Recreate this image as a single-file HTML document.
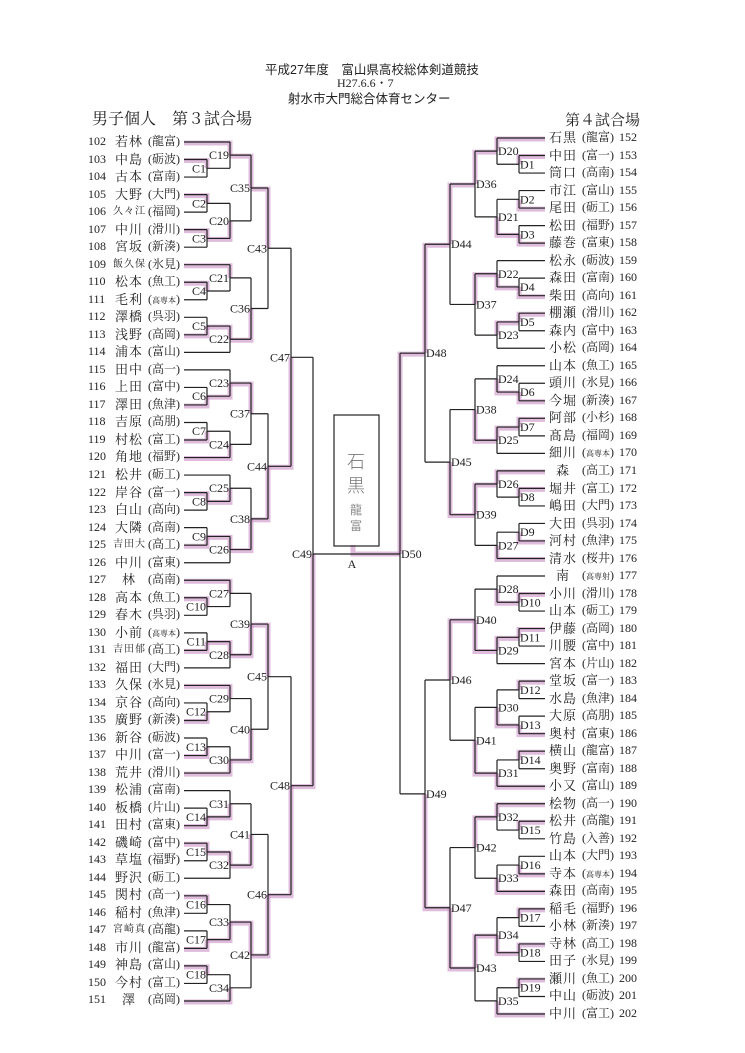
<!DOCTYPE html>
<html><head><meta charset="utf-8">
<style>
body{margin:0;background:#fff;}
#pg{position:relative;width:745px;height:1053px;overflow:hidden;background:#fff;font-family:"Liberation Serif","Noto Serif CJK SC","Noto Sans CJK JP",serif;color:#222;}
.t{position:absolute;white-space:nowrap;}
.col{position:absolute;}
.row{height:17.53px;line-height:17.53px;white-space:nowrap;font-size:13px;position:relative;}
.lc .n{position:absolute;left:0;width:24px;font-size:12px;}
.lc .nm{position:absolute;left:25px;width:32px;text-align:center;letter-spacing:1px;}
.lc .sc{position:absolute;left:55px;width:42px;text-align:center;font-size:12px;}
.rc .nm{position:absolute;left:0;width:28px;text-align:center;letter-spacing:1px;}
.rc .sc{position:absolute;left:28px;width:42px;text-align:center;font-size:12px;}
.rc .n{position:absolute;left:70px;font-size:12px;}
.s3{font-size:10px;letter-spacing:0}
.xs{font-size:8px}
svg{position:absolute;left:0;top:0;}
svg text{font-family:"Liberation Serif",serif;font-size:12px;fill:#222;}
</style></head><body><div id="pg">
<div class="t" style="left:265px;top:59px;font-size:12.5px;font-family:'Liberation Sans','Noto Sans CJK JP',sans-serif;">平成27年度　富山県高校総体剣道競技</div>
<div class="t" style="left:337px;top:74px;font-size:12px;">H27.6.6・7</div>
<div class="t" style="left:288px;top:88px;font-size:12.5px;font-family:'Liberation Sans','Noto Sans CJK JP',sans-serif;">射水市大門総合体育センター</div>
<div class="t" style="left:92px;top:106px;font-size:16px;">男子個人　第３試合場</div>
<div class="t" style="left:565px;top:109px;font-size:15px;">第４試合場</div>

<svg width="745" height="1053" id="sv">
<g id="pink" fill="none" stroke="#c98fc3" stroke-width="5" stroke-opacity="0.6"></g>
<g id="ln" fill="none" stroke="#222" stroke-width="1.2"></g>
<rect x="334" y="415" width="45" height="131" fill="none" stroke="#222" stroke-width="1.2"/>
<text x="356" y="468" text-anchor="middle" style="font-size:18px;fill:#777;font-family:'Noto Sans CJK JP',sans-serif;font-weight:300">石</text>
<text x="356" y="492" text-anchor="middle" style="font-size:18px;fill:#777;font-family:'Noto Sans CJK JP',sans-serif;font-weight:300">黒</text>
<text x="356" y="514" text-anchor="middle" style="font-size:12px;fill:#888;font-family:'Noto Sans CJK JP',sans-serif">龍</text>
<text x="356" y="530" text-anchor="middle" style="font-size:12px;fill:#888;font-family:'Noto Sans CJK JP',sans-serif">富</text>
<text x="352" y="568" text-anchor="middle">A</text>
<g id="lb">
<text id="C1">C1</text><text id="C2">C2</text><text id="C3">C3</text><text id="C4">C4</text><text id="C5">C5</text><text id="C6">C6</text><text id="C7">C7</text><text id="C8">C8</text><text id="C9">C9</text><text id="C10">C10</text><text id="C11">C11</text><text id="C12">C12</text><text id="C13">C13</text><text id="C14">C14</text><text id="C15">C15</text><text id="C16">C16</text><text id="C17">C17</text><text id="C18">C18</text><text id="C19">C19</text><text id="C20">C20</text><text id="C21">C21</text><text id="C22">C22</text><text id="C23">C23</text><text id="C24">C24</text><text id="C25">C25</text><text id="C26">C26</text><text id="C27">C27</text><text id="C28">C28</text><text id="C29">C29</text><text id="C30">C30</text><text id="C31">C31</text><text id="C32">C32</text><text id="C33">C33</text><text id="C34">C34</text><text id="C35">C35</text><text id="C36">C36</text><text id="C37">C37</text><text id="C38">C38</text><text id="C39">C39</text><text id="C40">C40</text><text id="C41">C41</text><text id="C42">C42</text><text id="C43">C43</text><text id="C44">C44</text><text id="C45">C45</text><text id="C46">C46</text><text id="C47">C47</text><text id="C48">C48</text><text id="C49">C49</text>
<text id="D1">D1</text><text id="D2">D2</text><text id="D3">D3</text><text id="D4">D4</text><text id="D5">D5</text><text id="D6">D6</text><text id="D7">D7</text><text id="D8">D8</text><text id="D9">D9</text><text id="D10">D10</text><text id="D11">D11</text><text id="D12">D12</text><text id="D13">D13</text><text id="D14">D14</text><text id="D15">D15</text><text id="D16">D16</text><text id="D17">D17</text><text id="D18">D18</text><text id="D19">D19</text><text id="D20">D20</text><text id="D21">D21</text><text id="D22">D22</text><text id="D23">D23</text><text id="D24">D24</text><text id="D25">D25</text><text id="D26">D26</text><text id="D27">D27</text><text id="D28">D28</text><text id="D29">D29</text><text id="D30">D30</text><text id="D31">D31</text><text id="D32">D32</text><text id="D33">D33</text><text id="D34">D34</text><text id="D35">D35</text><text id="D36">D36</text><text id="D37">D37</text><text id="D38">D38</text><text id="D39">D39</text><text id="D40">D40</text><text id="D41">D41</text><text id="D42">D42</text><text id="D43">D43</text><text id="D44">D44</text><text id="D45">D45</text><text id="D46">D46</text><text id="D47">D47</text><text id="D48">D48</text><text id="D49">D49</text><text id="D50">D50</text>
</g>
</svg>

<div class="col lc" style="left:88px;top:133.2px;width:100px;">
<div class="row"><span class="n">102</span><span class="nm">若林</span><span class="sc">(龍富)</span></div>
<div class="row"><span class="n">103</span><span class="nm">中島</span><span class="sc">(砺波)</span></div>
<div class="row"><span class="n">104</span><span class="nm">古本</span><span class="sc">(富南)</span></div>
<div class="row"><span class="n">105</span><span class="nm">大野</span><span class="sc">(大門)</span></div>
<div class="row"><span class="n">106</span><span class="nm s3">久々江</span><span class="sc">(福岡)</span></div>
<div class="row"><span class="n">107</span><span class="nm">中川</span><span class="sc">(滑川)</span></div>
<div class="row"><span class="n">108</span><span class="nm">宮坂</span><span class="sc">(新湊)</span></div>
<div class="row"><span class="n">109</span><span class="nm s3">飯久保</span><span class="sc">(氷見)</span></div>
<div class="row"><span class="n">110</span><span class="nm">松本</span><span class="sc">(魚工)</span></div>
<div class="row"><span class="n">111</span><span class="nm">毛利</span><span class="sc">(<span class="xs">高専本</span>)</span></div>
<div class="row"><span class="n">112</span><span class="nm">澤橋</span><span class="sc">(呉羽)</span></div>
<div class="row"><span class="n">113</span><span class="nm">浅野</span><span class="sc">(高岡)</span></div>
<div class="row"><span class="n">114</span><span class="nm">浦本</span><span class="sc">(富山)</span></div>
<div class="row"><span class="n">115</span><span class="nm">田中</span><span class="sc">(高一)</span></div>
<div class="row"><span class="n">116</span><span class="nm">上田</span><span class="sc">(富中)</span></div>
<div class="row"><span class="n">117</span><span class="nm">澤田</span><span class="sc">(魚津)</span></div>
<div class="row"><span class="n">118</span><span class="nm">吉原</span><span class="sc">(高朋)</span></div>
<div class="row"><span class="n">119</span><span class="nm">村松</span><span class="sc">(富工)</span></div>
<div class="row"><span class="n">120</span><span class="nm">角地</span><span class="sc">(福野)</span></div>
<div class="row"><span class="n">121</span><span class="nm">松井</span><span class="sc">(砺工)</span></div>
<div class="row"><span class="n">122</span><span class="nm">岸谷</span><span class="sc">(富一)</span></div>
<div class="row"><span class="n">123</span><span class="nm">白山</span><span class="sc">(高向)</span></div>
<div class="row"><span class="n">124</span><span class="nm">大隣</span><span class="sc">(高南)</span></div>
<div class="row"><span class="n">125</span><span class="nm s3">吉田大</span><span class="sc">(高工)</span></div>
<div class="row"><span class="n">126</span><span class="nm">中川</span><span class="sc">(富東)</span></div>
<div class="row"><span class="n">127</span><span class="nm">林</span><span class="sc">(高南)</span></div>
<div class="row"><span class="n">128</span><span class="nm">高本</span><span class="sc">(魚工)</span></div>
<div class="row"><span class="n">129</span><span class="nm">春木</span><span class="sc">(呉羽)</span></div>
<div class="row"><span class="n">130</span><span class="nm">小前</span><span class="sc">(<span class="xs">高専本</span>)</span></div>
<div class="row"><span class="n">131</span><span class="nm s3">吉田郁</span><span class="sc">(高工)</span></div>
<div class="row"><span class="n">132</span><span class="nm">福田</span><span class="sc">(大門)</span></div>
<div class="row"><span class="n">133</span><span class="nm">久保</span><span class="sc">(氷見)</span></div>
<div class="row"><span class="n">134</span><span class="nm">京谷</span><span class="sc">(高向)</span></div>
<div class="row"><span class="n">135</span><span class="nm">廣野</span><span class="sc">(新湊)</span></div>
<div class="row"><span class="n">136</span><span class="nm">新谷</span><span class="sc">(砺波)</span></div>
<div class="row"><span class="n">137</span><span class="nm">中川</span><span class="sc">(富一)</span></div>
<div class="row"><span class="n">138</span><span class="nm">荒井</span><span class="sc">(滑川)</span></div>
<div class="row"><span class="n">139</span><span class="nm">松浦</span><span class="sc">(富南)</span></div>
<div class="row"><span class="n">140</span><span class="nm">板橋</span><span class="sc">(片山)</span></div>
<div class="row"><span class="n">141</span><span class="nm">田村</span><span class="sc">(富東)</span></div>
<div class="row"><span class="n">142</span><span class="nm">磯崎</span><span class="sc">(富中)</span></div>
<div class="row"><span class="n">143</span><span class="nm">草塩</span><span class="sc">(福野)</span></div>
<div class="row"><span class="n">144</span><span class="nm">野沢</span><span class="sc">(砺工)</span></div>
<div class="row"><span class="n">145</span><span class="nm">関村</span><span class="sc">(高一)</span></div>
<div class="row"><span class="n">146</span><span class="nm">稲村</span><span class="sc">(魚津)</span></div>
<div class="row"><span class="n">147</span><span class="nm s3">宮崎真</span><span class="sc">(高龍)</span></div>
<div class="row"><span class="n">148</span><span class="nm">市川</span><span class="sc">(龍富)</span></div>
<div class="row"><span class="n">149</span><span class="nm">神島</span><span class="sc">(富山)</span></div>
<div class="row"><span class="n">150</span><span class="nm">今村</span><span class="sc">(富工)</span></div>
<div class="row"><span class="n">151</span><span class="nm">澤</span><span class="sc">(高岡)</span></div>
</div>

<div class="col rc" style="left:549px;top:129.2px;width:100px;">
<div class="row"><span class="nm">石黒</span><span class="sc">(龍富)</span><span class="n">152</span></div>
<div class="row"><span class="nm">中田</span><span class="sc">(富一)</span><span class="n">153</span></div>
<div class="row"><span class="nm">筒口</span><span class="sc">(高南)</span><span class="n">154</span></div>
<div class="row"><span class="nm">市江</span><span class="sc">(富山)</span><span class="n">155</span></div>
<div class="row"><span class="nm">尾田</span><span class="sc">(砺工)</span><span class="n">156</span></div>
<div class="row"><span class="nm">松田</span><span class="sc">(福野)</span><span class="n">157</span></div>
<div class="row"><span class="nm">藤巻</span><span class="sc">(富東)</span><span class="n">158</span></div>
<div class="row"><span class="nm">松永</span><span class="sc">(砺波)</span><span class="n">159</span></div>
<div class="row"><span class="nm">森田</span><span class="sc">(富南)</span><span class="n">160</span></div>
<div class="row"><span class="nm">柴田</span><span class="sc">(高向)</span><span class="n">161</span></div>
<div class="row"><span class="nm">棚瀬</span><span class="sc">(滑川)</span><span class="n">162</span></div>
<div class="row"><span class="nm">森内</span><span class="sc">(富中)</span><span class="n">163</span></div>
<div class="row"><span class="nm">小松</span><span class="sc">(高岡)</span><span class="n">164</span></div>
<div class="row"><span class="nm">山本</span><span class="sc">(魚工)</span><span class="n">165</span></div>
<div class="row"><span class="nm">頭川</span><span class="sc">(氷見)</span><span class="n">166</span></div>
<div class="row"><span class="nm">今堀</span><span class="sc">(新湊)</span><span class="n">167</span></div>
<div class="row"><span class="nm">阿部</span><span class="sc">(小杉)</span><span class="n">168</span></div>
<div class="row"><span class="nm">髙島</span><span class="sc">(福岡)</span><span class="n">169</span></div>
<div class="row"><span class="nm">細川</span><span class="sc">(<span class="xs">高専本</span>)</span><span class="n">170</span></div>
<div class="row"><span class="nm">森</span><span class="sc">(高工)</span><span class="n">171</span></div>
<div class="row"><span class="nm">堀井</span><span class="sc">(富工)</span><span class="n">172</span></div>
<div class="row"><span class="nm">嶋田</span><span class="sc">(大門)</span><span class="n">173</span></div>
<div class="row"><span class="nm">大田</span><span class="sc">(呉羽)</span><span class="n">174</span></div>
<div class="row"><span class="nm">河村</span><span class="sc">(魚津)</span><span class="n">175</span></div>
<div class="row"><span class="nm">清水</span><span class="sc">(桜井)</span><span class="n">176</span></div>
<div class="row"><span class="nm">南</span><span class="sc">(<span class="xs">高専射</span>)</span><span class="n">177</span></div>
<div class="row"><span class="nm">小川</span><span class="sc">(滑川)</span><span class="n">178</span></div>
<div class="row"><span class="nm">山本</span><span class="sc">(砺工)</span><span class="n">179</span></div>
<div class="row"><span class="nm">伊藤</span><span class="sc">(高岡)</span><span class="n">180</span></div>
<div class="row"><span class="nm">川腰</span><span class="sc">(富中)</span><span class="n">181</span></div>
<div class="row"><span class="nm">宮本</span><span class="sc">(片山)</span><span class="n">182</span></div>
<div class="row"><span class="nm">堂坂</span><span class="sc">(富一)</span><span class="n">183</span></div>
<div class="row"><span class="nm">水島</span><span class="sc">(魚津)</span><span class="n">184</span></div>
<div class="row"><span class="nm">大原</span><span class="sc">(高朋)</span><span class="n">185</span></div>
<div class="row"><span class="nm">奥村</span><span class="sc">(富東)</span><span class="n">186</span></div>
<div class="row"><span class="nm">横山</span><span class="sc">(龍富)</span><span class="n">187</span></div>
<div class="row"><span class="nm">奥野</span><span class="sc">(富南)</span><span class="n">188</span></div>
<div class="row"><span class="nm">小又</span><span class="sc">(富山)</span><span class="n">189</span></div>
<div class="row"><span class="nm">桧物</span><span class="sc">(高一)</span><span class="n">190</span></div>
<div class="row"><span class="nm">松井</span><span class="sc">(高龍)</span><span class="n">191</span></div>
<div class="row"><span class="nm">竹島</span><span class="sc">(入善)</span><span class="n">192</span></div>
<div class="row"><span class="nm">山本</span><span class="sc">(大門)</span><span class="n">193</span></div>
<div class="row"><span class="nm">寺本</span><span class="sc">(<span class="xs">高専本</span>)</span><span class="n">194</span></div>
<div class="row"><span class="nm">森田</span><span class="sc">(高南)</span><span class="n">195</span></div>
<div class="row"><span class="nm">稲毛</span><span class="sc">(福野)</span><span class="n">196</span></div>
<div class="row"><span class="nm">小林</span><span class="sc">(新湊)</span><span class="n">197</span></div>
<div class="row"><span class="nm">寺林</span><span class="sc">(高工)</span><span class="n">198</span></div>
<div class="row"><span class="nm">田子</span><span class="sc">(氷見)</span><span class="n">199</span></div>
<div class="row"><span class="nm">瀬川</span><span class="sc">(魚工)</span><span class="n">200</span></div>
<div class="row"><span class="nm">中山</span><span class="sc">(砺波)</span><span class="n">201</span></div>
<div class="row"><span class="nm">中川</span><span class="sc">(富工)</span><span class="n">202</span></div>
</div>
</div>
<script>
(function(){
var L="C1:1,2,0 C19:0,C1,0 C2:3,4,0 C3:5,6,0 C20:C2,C3,1 C35:C19,C20,0 C4:8,9,0 C21:7,C4,0 C5:10,11,1 C22:C5,12,0 C36:C21,C22,1 C43:C35,C36,0 C6:14,15,1 C23:13,C6,1 C7:16,17,1 C24:C7,18,1 C37:C23,C24,0 C8:20,21,0 C25:19,C8,1 C9:22,23,1 C26:C9,24,0 C38:C25,C26,1 C44:C37,C38,1 C47:C43,C44,1 C10:26,27,0 C27:25,C10,0 C11:28,29,1 C28:C11,30,0 C39:C27,C28,1 C12:32,33,1 C29:31,C12,0 C13:34,35,1 C30:C13,36,1 C40:C29,C30,1 C45:C39,C40,0 C14:38,39,1 C31:37,C14,1 C15:40,41,0 C32:C15,42,0 C41:C31,C32,1 C16:43,44,0 C17:45,46,1 C33:C16,C17,1 C18:47,48,0 C34:C18,49,1 C42:C33,C34,0 C46:C41,C42,1 C48:C45,C46,1 C49:C47,C48,1";
var R="D1:1,2,0 D20:0,D1,0 D2:3,4,1 D3:5,6,1 D21:D2,D3,1 D36:D20,D21,0 D4:8,9,1 D22:7,D4,1 D5:10,11,0 D23:D5,12,0 D37:D22,D23,0 D44:D36,D37,0 D6:14,15,1 D24:13,D6,1 D7:16,17,0 D25:D7,18,0 D38:D24,D25,1 D8:20,21,0 D26:19,D8,0 D9:22,23,1 D27:D9,24,1 D39:D26,D27,0 D45:D38,D39,1 D48:D44,D45,0 D10:26,27,0 D28:25,D10,1 D11:28,29,0 D29:D11,30,0 D40:D28,D29,1 D12:31,32,0 D13:33,34,1 D30:D12,D13,1 D14:35,36,0 D31:D14,37,1 D41:D30,D31,1 D46:D40,D41,0 D15:39,40,0 D32:38,D15,0 D16:41,42,1 D33:D16,43,1 D42:D32,D33,0 D17:44,45,0 D18:46,47,0 D34:D17,D18,1 D19:48,49,0 D35:D19,50,1 D43:D34,D35,0 D47:D42,D43,1 D49:D46,D47,1 D50:D48,D49,0";
var NS="http://www.w3.org/2000/svg";
var ln=document.getElementById('ln'),pk=document.getElementById('pink');
function line(g,x1,y1,x2,y2){var e=document.createElementNS(NS,'polyline');e.setAttribute('points',x1+','+y1+' '+x2+','+y2);g.appendChild(e);}
function pl(g,pts){var e=document.createElementNS(NS,'polyline');e.setAttribute('points',pts.join(' '));g.appendChild(e);}
function build(spec,left){
  var m={};spec.split(' ').forEach(function(s){var p=s.split(':'),q=p[1].split(',');m[p[0]]={c:[q[0],q[1]],w:+q[2]};});
  function lx(n){var k=+n.slice(1);
    if(left)return k<=18?207:k<=34?230:k<=42?251:k<=46?268:k<=48?291:313;
    return k<=19?519:k<=35?497:k<=43?475:k<=47?450:k<=49?425:400;}
  function isLeaf(c){return /^\d+$/.test(c);}
  function X(c){return isLeaf(c)?(left?184:545):lx(c);}
  var memo={};
  function Y(c){if(isLeaf(c))return left?142+17.53*(+c):138+17.52*(+c);
    if(memo[c]!==undefined)return memo[c];
    var n=m[c];var y=(Y(n.c[0])+Y(n.c[1]))/2;if(c==='C49'||c==='D50')y=554;memo[c]=y;return y;}
  Object.keys(m).forEach(function(k){var n=m[k],x=lx(k),y=Y(k);
    var y0=Y(n.c[0]),y1=Y(n.c[1]);
    line(ln,x,y0,x,y1);
    n.c.forEach(function(c){line(ln,X(c),Y(c),x,Y(c));});
    var w=n.c[n.w];var yw=Y(w);pl(pk,[X(w)+','+(yw+1),x+','+(yw+1),x+','+y]);
    var t=document.getElementById(k);
    if(t){t.setAttribute('x',left?x-1:x+1);t.setAttribute('y',y+4);t.setAttribute('text-anchor',left?'end':'start');}
  });
}
build(L,true);build(R,false);
line(ln,313,554,400,554);
pl(pk,['400,554','353,554','353,545']);
})();
</script>
</body></html>
